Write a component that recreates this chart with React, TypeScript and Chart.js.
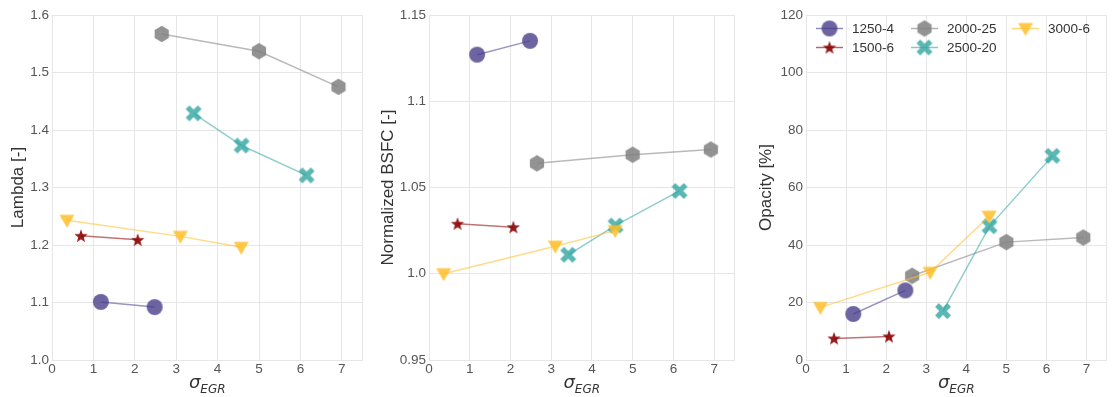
import React, { useEffect, useRef } from "react";
import { Chart, registerables } from "chart.js";

Chart.register(...registerables);

// ---------------- data ----------------
const SERIES_NAMES = ["1250-4", "1500-6", "2000-25", "2500-20", "3000-6"];

const SIGMA_1250 = [1.18, 2.48];
const SIGMA_1500 = [0.7, 2.07];
const SIGMA_2000 = [2.65, 5.0, 6.92];
const SIGMA_2500 = [3.42, 4.58, 6.15];
const SIGMA_3000 = [0.36, 3.1, 4.57];

const LAMBDA_1250 = [1.101, 1.092];
const LAMBDA_1500 = [1.216, 1.209];
const LAMBDA_2000 = [1.567, 1.537, 1.475];
const LAMBDA_2500 = [1.429, 1.373, 1.321];
const LAMBDA_3000 = [1.243, 1.215, 1.196];

const BSFC_1250 = [1.127, 1.135];
const BSFC_1500 = [1.029, 1.027];
const BSFC_2000 = [1.064, 1.069, 1.072];
const BSFC_2500 = [1.011, 1.028, 1.048];
const BSFC_3000 = [1.0, 1.016, 1.025];

const OPACITY_1250 = [16.0, 24.2];
const OPACITY_1500 = [7.5, 8.2];
const OPACITY_2000 = [29.3, 41.0, 42.6];
const OPACITY_2500 = [17.0, 46.5, 71.0];
const OPACITY_3000 = [18.3, 30.5, 50.0];

const X_TICKS = [0, 1, 2, 3, 4, 5, 6, 7];
const X_TICK_LABELS = ["0", "1", "2", "3", "4", "5", "6", "7"];

const LAMBDA_TICKS = [1.0, 1.1, 1.2, 1.3, 1.4, 1.5, 1.6];
const LAMBDA_TICK_LABELS = ["1.0", "1.1", "1.2", "1.3", "1.4", "1.5", "1.6"];
const BSFC_TICKS = [0.95, 1.0, 1.05, 1.1, 1.15];
const BSFC_TICK_LABELS = ["0.95", "1.0", "1.05", "1.1", "1.15"];
const OPACITY_TICKS = [0, 20, 40, 60, 80, 100, 120];
const OPACITY_TICK_LABELS = ["0", "20", "40", "60", "80", "100", "120"];

const Y_TITLES = ["Lambda [-]", "Normalized BSFC [-]", "Opacity [%]"];

// ---------------- styles ----------------
const FONT = '"Liberation Sans", Arial, sans-serif';
const TICK_COLOR = "#555555";
const TITLE_COLOR = "#333333";
const GRID_COLOR = "#e6e6e6";

const SERIES_RGB = [
  [72, 61, 139],
  [139, 0, 0],
  [128, 128, 128],
  [50, 165, 160],
  [255, 190, 40],
];
const SERIES_SHAPES = ["circle", "star", "hexagon", "x", "triDown"];
const MARKER_ALPHA = [0.8, 0.9, 0.85, 0.8, 0.85];

const rgba = (c: number[], a: number) => `rgba(${c[0]},${c[1]},${c[2]},${a})`;

function makeMarker(shape: string, color: string): HTMLCanvasElement {
  const size = 20;
  const c = document.createElement("canvas");
  c.width = size;
  c.height = size;
  const ctx = c.getContext("2d") as CanvasRenderingContext2D;
  const m = size / 2;
  ctx.fillStyle = color;
  ctx.beginPath();
  if (shape === "circle") {
    ctx.arc(m, m, 8, 0, Math.PI * 2);
  } else if (shape === "star") {
    const ro = 7, ri = 2.9;
    for (let i = 0; i < 10; i++) {
      const r = i % 2 === 0 ? ro : ri;
      const a = -Math.PI / 2 + (i * Math.PI) / 5;
      const px = m + r * Math.cos(a);
      const py = m + 0.5 + r * Math.sin(a);
      if (i === 0) ctx.moveTo(px, py);
      else ctx.lineTo(px, py);
    }
    ctx.closePath();
  } else if (shape === "hexagon") {
    const r = 8.2;
    for (let i = 0; i < 6; i++) {
      const a = -Math.PI / 2 + (i * Math.PI) / 3;
      const px = m + r * Math.cos(a);
      const py = m + r * Math.sin(a);
      if (i === 0) ctx.moveTo(px, py);
      else ctx.lineTo(px, py);
    }
    ctx.closePath();
  } else if (shape === "x") {
    const s = 8.6, t = 2.7;
    ctx.save();
    ctx.translate(m, m);
    ctx.rotate(Math.PI / 4);
    ctx.rect(-t, -s, 2 * t, 2 * s);
    ctx.rect(-s, -t, 2 * s, 2 * t);
    ctx.restore();
  } else if (shape === "triDown") {
    ctx.moveTo(m - 7.5, m - 5.5);
    ctx.lineTo(m + 7.5, m - 5.5);
    ctx.lineTo(m, m + 7.5);
    ctx.closePath();
  }
  ctx.fill("nonzero");
  return c;
}

// ---------------- plugins ----------------
const framePlugin = {
  id: "frame",
  beforeDatasetsDraw(chart: any) {
    const { ctx, chartArea } = chart;
    ctx.save();
    ctx.strokeStyle = GRID_COLOR;
    ctx.lineWidth = 1;
    ctx.strokeRect(
      Math.round(chartArea.left) + 0.5,
      Math.round(chartArea.top) + 0.5,
      Math.round(chartArea.right - chartArea.left) - 1,
      Math.round(chartArea.bottom - chartArea.top)
    );
    ctx.restore();
  },
};

const xTitlePlugin = {
  id: "xTitle",
  afterDraw(chart: any) {
    const { ctx, chartArea } = chart;
    const cx = (chartArea.left + chartArea.right) / 2;
    ctx.save();
    ctx.fillStyle = TITLE_COLOR;
    ctx.textBaseline = "alphabetic";
    ctx.textAlign = "left";
    const bigFont = 'italic 18px "DejaVu Sans", sans-serif';
    const smallFont = 'italic 12px "DejaVu Sans", sans-serif';
    ctx.font = bigFont;
    const w1 = ctx.measureText("σ").width;
    ctx.font = smallFont;
    const w2 = ctx.measureText("EGR").width;
    const x0 = cx - (w1 + w2) / 2;
    ctx.font = bigFont;
    ctx.fillText("σ", x0, 388);
    ctx.font = smallFont;
    ctx.fillText("EGR", x0 + w1, 393);
    ctx.restore();
  },
};

function makeLegendPlugin(markers: HTMLCanvasElement[]) {
  const cols = [10, 105, 206];
  const rows = [13.5, 32.5];
  const placement = [
    [0, 0],
    [0, 1],
    [1, 0],
    [1, 1],
    [2, 0],
  ];
  return {
    id: "customLegend",
    afterDraw(chart: any) {
      const { ctx, chartArea } = chart;
      ctx.save();
      SERIES_NAMES.forEach((name, i) => {
        const [ci, ri] = placement[i];
        const x = chartArea.left + cols[ci];
        const y = chartArea.top + rows[ri];
        ctx.strokeStyle = rgba(SERIES_RGB[i], 0.6);
        ctx.lineWidth = 1.5;
        ctx.beginPath();
        ctx.moveTo(x, y);
        ctx.lineTo(x + 27, y);
        ctx.stroke();
        const mk = markers[i];
        ctx.drawImage(mk, x + 13.5 - mk.width / 2, y - mk.height / 2);
        ctx.fillStyle = TITLE_COLOR;
        ctx.font = `13.5px ${FONT}`;
        ctx.textBaseline = "middle";
        ctx.textAlign = "left";
        ctx.fillText(name, x + 36, y + 0.5);
      });
      ctx.restore();
    },
  };
}

// ---------------- panels ----------------
type PanelSpec = {
  left: number;
  width: number;
  yWidth: number;
  titlePad: number;
  rightPad: number;
  yMin: number;
  yMax: number;
  yTicks: number[];
  yTickLabels: string[];
  yTitle: string;
  xs: number[][];
  ys: number[][];
  legend: boolean;
};

const PANELS: PanelSpec[] = [
  {
    left: 0,
    width: 371,
    yWidth: 52,
    titlePad: 8,
    rightPad: 4,
    yMin: 1.0,
    yMax: 1.6,
    yTicks: LAMBDA_TICKS,
    yTickLabels: LAMBDA_TICK_LABELS,
    yTitle: Y_TITLES[0],
    xs: [SIGMA_1250, SIGMA_1500, SIGMA_2000, SIGMA_2500, SIGMA_3000],
    ys: [LAMBDA_1250, LAMBDA_1500, LAMBDA_2000, LAMBDA_2500, LAMBDA_3000],
    legend: false,
  },
  {
    left: 371,
    width: 372,
    yWidth: 58,
    titlePad: 7,
    rightPad: 3,
    yMin: 0.95,
    yMax: 1.15,
    yTicks: BSFC_TICKS,
    yTickLabels: BSFC_TICK_LABELS,
    yTitle: Y_TITLES[1],
    xs: [SIGMA_1250, SIGMA_1500, SIGMA_2000, SIGMA_2500, SIGMA_3000],
    ys: [BSFC_1250, BSFC_1500, BSFC_2000, BSFC_2500, BSFC_3000],
    legend: false,
  },
  {
    left: 743,
    width: 372,
    yWidth: 63,
    titlePad: 13.5,
    rightPad: 3,
    yMin: 0,
    yMax: 120,
    yTicks: OPACITY_TICKS,
    yTickLabels: OPACITY_TICK_LABELS,
    yTitle: Y_TITLES[2],
    xs: [SIGMA_1250, SIGMA_1500, SIGMA_2000, SIGMA_2500, SIGMA_3000],
    ys: [OPACITY_1250, OPACITY_1500, OPACITY_2000, OPACITY_2500, OPACITY_3000],
    legend: true,
  },
];

function Panel({ spec }: { spec: PanelSpec }) {
  const ref = useRef<HTMLCanvasElement | null>(null);
  useEffect(() => {
    if (!ref.current) return;
    const markers = SERIES_SHAPES.map((s, i) =>
      makeMarker(s, rgba(SERIES_RGB[i], MARKER_ALPHA[i]))
    );
    const datasets = SERIES_NAMES.map((name, i) => ({
      label: name,
      data: spec.xs[i].map((x, j) => ({ x, y: spec.ys[i][j] })),
      borderColor: rgba(SERIES_RGB[i], 0.55),
      backgroundColor: rgba(SERIES_RGB[i], 0.8),
      borderWidth: 1.5,
      pointStyle: markers[i],
      pointRadius: 7,
      pointHoverRadius: 7,
      showLine: true,
      tension: 0,
      order: SERIES_NAMES.length - i,
    }));
    const plugins: any[] = [framePlugin, xTitlePlugin];
    if (spec.legend) plugins.push(makeLegendPlugin(markers));
    const chart = new Chart(ref.current, {
      type: "scatter",
      data: { datasets },
      plugins,
      options: {
        animation: false,
        responsive: false,
        devicePixelRatio: 1,
        events: [],
        layout: { padding: { top: 15, right: spec.rightPad, left: 0, bottom: 0 } },
        plugins: {
          legend: { display: false },
          tooltip: { enabled: false },
        },
        scales: {
          x: {
            type: "linear",
            min: 0,
            max: 7.5,
            afterBuildTicks: (axis: any) => {
              axis.ticks = X_TICKS.map((v) => ({ value: v }));
            },
            afterFit: (axis: any) => {
              axis.height = 37;
            },
            grid: { color: GRID_COLOR, drawTicks: false, lineWidth: 1 },
            border: { display: false },
            ticks: {
              padding: 1,
              color: TICK_COLOR,
              font: { family: FONT, size: 13.5 },
              maxRotation: 0,
              autoSkip: false,
              callback: (_v: any, idx: number) => X_TICK_LABELS[idx],
            },
          },
          y: {
            type: "linear",
            min: spec.yMin,
            max: spec.yMax,
            afterBuildTicks: (axis: any) => {
              axis.ticks = spec.yTicks.map((v) => ({ value: v }));
            },
            afterFit: (axis: any) => {
              axis.width = spec.yWidth;
            },
            grid: { color: GRID_COLOR, drawTicks: false, lineWidth: 1 },
            border: { display: false },
            title: {
              display: true,
              text: spec.yTitle,
              color: TITLE_COLOR,
              font: { family: FONT, size: 17 },
              padding: { top: spec.titlePad, bottom: 0 },
            },
            ticks: {
              padding: 3,
              color: TICK_COLOR,
              font: { family: FONT, size: 13.5 },
              autoSkip: false,
              callback: (_v: any, idx: number) => spec.yTickLabels[idx],
            },
          },
        },
      } as any,
    });
    return () => chart.destroy();
  }, [spec]);
  return (
    <canvas
      ref={ref}
      width={spec.width}
      height={397}
      style={{ position: "absolute", left: spec.left, top: 0, width: spec.width, height: 397 }}
    />
  );
}

export default function App() {
  return (
    <div
      style={{
        position: "absolute",
        left: 0,
        top: 0,
        width: 1115,
        height: 397,
        background: "#ffffff",
        overflow: "hidden",
      }}
    >
      {PANELS.map((p, i) => (
        <Panel key={i} spec={p} />
      ))}
    </div>
  );
}
